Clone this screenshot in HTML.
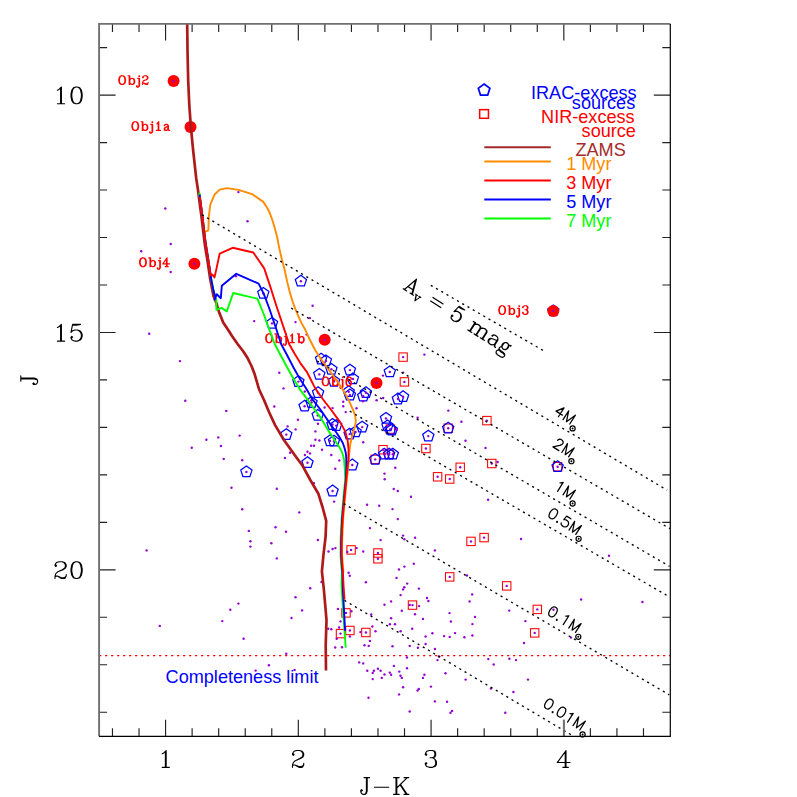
<!DOCTYPE html>
<html><head><meta charset="utf-8"><title>J vs J-K</title><style>html,body{margin:0;padding:0;background:#fff}svg{display:block}</style></head><body>
<svg width="797" height="797" viewBox="0 0 797 797">
<rect width="797" height="797" fill="#fff"/>
<defs><clipPath id="cp"><rect x="99.1" y="23.9" width="571.2" height="712.4"/></clipPath></defs>
<g fill="none" stroke="#ff0000" stroke-width="1.05">
<rect x="398.9" y="352.9" width="8.4" height="8.4"/>
<rect x="400.2" y="377.7" width="8.4" height="8.4"/>
<rect x="386.1" y="424.9" width="8.4" height="8.4"/>
<rect x="378.8" y="445.5" width="8.4" height="8.4"/>
<rect x="371.0" y="455.2" width="8.4" height="8.4"/>
<rect x="384.9" y="450.0" width="8.4" height="8.4"/>
<rect x="444.0" y="424.0" width="8.4" height="8.4"/>
<rect x="482.7" y="416.4" width="8.4" height="8.4"/>
<rect x="421.7" y="444.3" width="8.4" height="8.4"/>
<rect x="487.6" y="459.3" width="8.4" height="8.4"/>
<rect x="456.0" y="463.1" width="8.4" height="8.4"/>
<rect x="433.4" y="472.6" width="8.4" height="8.4"/>
<rect x="445.5" y="474.8" width="8.4" height="8.4"/>
<rect x="553.4" y="462.5" width="8.4" height="8.4"/>
<rect x="346.9" y="545.7" width="8.4" height="8.4"/>
<rect x="373.7" y="548.8" width="8.4" height="8.4"/>
<rect x="373.7" y="554.6" width="8.4" height="8.4"/>
<rect x="466.8" y="537.2" width="8.4" height="8.4"/>
<rect x="479.9" y="533.4" width="8.4" height="8.4"/>
<rect x="445.5" y="572.7" width="8.4" height="8.4"/>
<rect x="502.5" y="581.7" width="8.4" height="8.4"/>
<rect x="533.1" y="605.2" width="8.4" height="8.4"/>
<rect x="530.5" y="628.7" width="8.4" height="8.4"/>
<rect x="341.8" y="608.7" width="8.4" height="8.4"/>
<rect x="345.7" y="626.3" width="8.4" height="8.4"/>
<rect x="336.3" y="629.4" width="8.4" height="8.4"/>
<rect x="361.7" y="628.3" width="8.4" height="8.4"/>
<rect x="408.3" y="600.9" width="8.4" height="8.4"/>
</g>
<g fill="none" stroke="#0000ff" stroke-width="1.25" stroke-linejoin="miter">
<polygon points="300.90,275.30 306.51,279.38 304.37,285.97 297.43,285.97 295.29,279.38"/>
<polygon points="263.30,287.50 268.91,291.58 266.77,298.17 259.83,298.17 257.69,291.58"/>
<polygon points="272.00,317.50 277.61,321.58 275.47,328.17 268.53,328.17 266.39,321.58"/>
<polygon points="321.10,353.20 326.71,357.28 324.57,363.87 317.63,363.87 315.49,357.28"/>
<polygon points="325.90,355.00 331.51,359.08 329.37,365.67 322.43,365.67 320.29,359.08"/>
<polygon points="331.40,363.40 337.01,367.48 334.87,374.07 327.93,374.07 325.79,367.48"/>
<polygon points="319.30,368.50 324.91,372.58 322.77,379.17 315.83,379.17 313.69,372.58"/>
<polygon points="349.90,364.20 355.51,368.28 353.37,374.87 346.43,374.87 344.29,368.28"/>
<polygon points="352.90,373.00 358.51,377.08 356.37,383.67 349.43,383.67 347.29,377.08"/>
<polygon points="334.10,375.50 339.71,379.58 337.57,386.17 330.63,386.17 328.49,379.58"/>
<polygon points="348.70,385.80 354.31,389.88 352.17,396.47 345.23,396.47 343.09,389.88"/>
<polygon points="349.90,389.10 355.51,393.18 353.37,399.77 346.43,399.77 344.29,393.18"/>
<polygon points="365.90,386.80 371.51,390.88 369.37,397.47 362.43,397.47 360.29,390.88"/>
<polygon points="363.20,390.30 368.81,394.38 366.67,400.97 359.73,400.97 357.59,394.38"/>
<polygon points="318.10,386.80 323.71,390.88 321.57,397.47 314.63,397.47 312.49,390.88"/>
<polygon points="298.40,375.70 304.01,379.78 301.87,386.37 294.93,386.37 292.79,379.78"/>
<polygon points="304.60,400.30 310.21,404.38 308.07,410.97 301.13,410.97 298.99,404.38"/>
<polygon points="311.50,396.60 317.11,400.68 314.97,407.27 308.03,407.27 305.89,400.68"/>
<polygon points="317.70,409.50 323.31,413.58 321.17,420.17 314.23,420.17 312.09,413.58"/>
<polygon points="389.80,366.00 395.41,370.08 393.27,376.67 386.33,376.67 384.19,370.08"/>
<polygon points="403.10,390.80 408.71,394.88 406.57,401.47 399.63,401.47 397.49,394.88"/>
<polygon points="397.90,393.10 403.51,397.18 401.37,403.77 394.43,403.77 392.29,397.18"/>
<polygon points="386.00,412.50 391.61,416.58 389.47,423.17 382.53,423.17 380.39,416.58"/>
<polygon points="286.30,428.70 291.91,432.78 289.77,439.37 282.83,439.37 280.69,432.78"/>
<polygon points="307.50,456.80 313.11,460.88 310.97,467.47 304.03,467.47 301.89,460.88"/>
<polygon points="330.00,435.00 335.61,439.08 333.47,445.67 326.53,445.67 324.39,439.08"/>
<polygon points="334.00,435.30 339.61,439.38 337.47,445.97 330.53,445.97 328.39,439.38"/>
<polygon points="336.20,419.70 341.81,423.78 339.67,430.37 332.73,430.37 330.59,423.78"/>
<polygon points="332.50,418.60 338.11,422.68 335.97,429.27 329.03,429.27 326.89,422.68"/>
<polygon points="362.20,421.20 367.81,425.28 365.67,431.87 358.73,431.87 356.59,425.28"/>
<polygon points="349.60,428.20 355.21,432.28 353.07,438.87 346.13,438.87 343.99,432.28"/>
<polygon points="355.60,426.00 361.21,430.08 359.07,436.67 352.13,436.67 349.99,430.08"/>
<polygon points="387.50,420.00 393.11,424.08 390.97,430.67 384.03,430.67 381.89,424.08"/>
<polygon points="390.30,423.40 395.91,427.48 393.77,434.07 386.83,434.07 384.69,427.48"/>
<polygon points="391.80,424.10 397.41,428.18 395.27,434.77 388.33,434.77 386.19,428.18"/>
<polygon points="352.30,459.10 357.91,463.18 355.77,469.77 348.83,469.77 346.69,463.18"/>
<polygon points="375.20,453.50 380.81,457.58 378.67,464.17 371.73,464.17 369.59,457.58"/>
<polygon points="384.20,448.30 389.81,452.38 387.67,458.97 380.73,458.97 378.59,452.38"/>
<polygon points="389.10,448.30 394.71,452.38 392.57,458.97 385.63,458.97 383.49,452.38"/>
<polygon points="392.80,448.30 398.41,452.38 396.27,458.97 389.33,458.97 387.19,452.38"/>
<polygon points="448.20,422.30 453.81,426.38 451.67,432.97 444.73,432.97 442.59,426.38"/>
<polygon points="428.30,430.20 433.91,434.28 431.77,440.87 424.83,440.87 422.69,434.28"/>
<polygon points="246.40,466.00 252.01,470.08 249.87,476.67 242.93,476.67 240.79,470.08"/>
<polygon points="332.60,485.10 338.21,489.18 336.07,495.77 329.13,495.77 326.99,489.18"/>
<polygon points="557.60,460.80 563.21,464.88 561.07,471.47 554.13,471.47 551.99,464.88"/>
<polygon points="553.30,305.00 558.91,309.08 556.77,315.67 549.83,315.67 547.69,309.08"/>
</g>
<g fill="#ff0000">
<circle cx="173.6" cy="81.0" r="6"/>
<circle cx="190.5" cy="126.9" r="6"/>
<circle cx="194.4" cy="263.7" r="6"/>
<circle cx="324.7" cy="339.8" r="6"/>
<circle cx="376.5" cy="382.9" r="6"/>
<circle cx="553.3" cy="310.9" r="6"/>
</g>
<g fill="#9400d3">
<circle cx="300.9" cy="281.2" r="1.2"/>
<circle cx="263.3" cy="293.4" r="1.2"/>
<circle cx="272.0" cy="323.4" r="1.2"/>
<circle cx="321.1" cy="359.1" r="1.2"/>
<circle cx="325.9" cy="360.9" r="1.2"/>
<circle cx="331.4" cy="369.3" r="1.2"/>
<circle cx="319.3" cy="374.4" r="1.2"/>
<circle cx="349.9" cy="370.1" r="1.2"/>
<circle cx="352.9" cy="378.9" r="1.2"/>
<circle cx="334.1" cy="381.4" r="1.2"/>
<circle cx="348.7" cy="391.7" r="1.2"/>
<circle cx="349.9" cy="395.0" r="1.2"/>
<circle cx="365.9" cy="392.7" r="1.2"/>
<circle cx="363.2" cy="396.2" r="1.2"/>
<circle cx="318.1" cy="392.7" r="1.2"/>
<circle cx="298.4" cy="381.6" r="1.2"/>
<circle cx="304.6" cy="406.2" r="1.2"/>
<circle cx="311.5" cy="402.5" r="1.2"/>
<circle cx="317.7" cy="415.4" r="1.2"/>
<circle cx="389.8" cy="371.9" r="1.2"/>
<circle cx="403.1" cy="396.7" r="1.2"/>
<circle cx="397.9" cy="399.0" r="1.2"/>
<circle cx="386.0" cy="418.4" r="1.2"/>
<circle cx="286.3" cy="434.6" r="1.2"/>
<circle cx="307.5" cy="462.7" r="1.2"/>
<circle cx="330.0" cy="440.9" r="1.2"/>
<circle cx="334.0" cy="441.2" r="1.2"/>
<circle cx="336.2" cy="425.6" r="1.2"/>
<circle cx="332.5" cy="424.5" r="1.2"/>
<circle cx="362.2" cy="427.1" r="1.2"/>
<circle cx="349.6" cy="434.1" r="1.2"/>
<circle cx="355.6" cy="431.9" r="1.2"/>
<circle cx="387.5" cy="425.9" r="1.2"/>
<circle cx="390.3" cy="429.3" r="1.2"/>
<circle cx="352.3" cy="465.0" r="1.2"/>
<circle cx="375.2" cy="459.4" r="1.2"/>
<circle cx="384.2" cy="454.2" r="1.2"/>
<circle cx="389.1" cy="454.2" r="1.2"/>
<circle cx="392.8" cy="454.2" r="1.2"/>
<circle cx="448.2" cy="428.2" r="1.2"/>
<circle cx="428.3" cy="436.1" r="1.2"/>
<circle cx="246.4" cy="471.9" r="1.2"/>
<circle cx="332.6" cy="491.0" r="1.2"/>
<circle cx="557.6" cy="466.7" r="1.2"/>
<circle cx="553.3" cy="310.9" r="1.2"/>
<circle cx="403.1" cy="357.1" r="1.2"/>
<circle cx="404.4" cy="381.9" r="1.2"/>
<circle cx="383.0" cy="449.7" r="1.2"/>
<circle cx="486.9" cy="420.6" r="1.2"/>
<circle cx="425.9" cy="448.5" r="1.2"/>
<circle cx="491.8" cy="463.5" r="1.2"/>
<circle cx="460.2" cy="467.3" r="1.2"/>
<circle cx="437.6" cy="476.8" r="1.2"/>
<circle cx="449.7" cy="479.0" r="1.2"/>
<circle cx="351.1" cy="549.9" r="1.2"/>
<circle cx="377.9" cy="553.0" r="1.2"/>
<circle cx="377.9" cy="558.8" r="1.2"/>
<circle cx="471.0" cy="541.4" r="1.2"/>
<circle cx="484.1" cy="537.6" r="1.2"/>
<circle cx="449.7" cy="576.9" r="1.2"/>
<circle cx="506.7" cy="585.9" r="1.2"/>
<circle cx="537.3" cy="609.4" r="1.2"/>
<circle cx="534.7" cy="632.9" r="1.2"/>
<circle cx="346.0" cy="612.9" r="1.2"/>
<circle cx="349.9" cy="630.5" r="1.2"/>
<circle cx="340.5" cy="633.6" r="1.2"/>
<circle cx="365.9" cy="632.5" r="1.2"/>
<circle cx="412.5" cy="605.1" r="1.2"/>
<circle cx="173.6" cy="81.0" r="1.2"/>
<circle cx="190.5" cy="126.9" r="1.2"/>
<circle cx="194.4" cy="263.7" r="1.2"/>
<circle cx="324.7" cy="339.8" r="1.2"/>
<circle cx="376.5" cy="382.9" r="1.2"/>
<circle cx="165.3" cy="208.5" r="1.2"/>
<circle cx="141.2" cy="251.3" r="1.2"/>
<circle cx="170.7" cy="244.0" r="1.2"/>
<circle cx="170.7" cy="272.0" r="1.2"/>
<circle cx="149.2" cy="333.8" r="1.2"/>
<circle cx="238.4" cy="192.1" r="1.2"/>
<circle cx="247.5" cy="221.3" r="1.2"/>
<circle cx="235.9" cy="276.2" r="1.2"/>
<circle cx="254.2" cy="321.1" r="1.2"/>
<circle cx="312.6" cy="305.8" r="1.2"/>
<circle cx="309.9" cy="318.1" r="1.2"/>
<circle cx="295.5" cy="322.1" r="1.2"/>
<circle cx="301.6" cy="342.6" r="1.2"/>
<circle cx="306.6" cy="334.6" r="1.2"/>
<circle cx="179.9" cy="361.1" r="1.2"/>
<circle cx="185.3" cy="400.8" r="1.2"/>
<circle cx="226.3" cy="410.9" r="1.2"/>
<circle cx="239.6" cy="435.6" r="1.2"/>
<circle cx="218.3" cy="437.4" r="1.2"/>
<circle cx="206.4" cy="439.8" r="1.2"/>
<circle cx="191.8" cy="447.8" r="1.2"/>
<circle cx="220.9" cy="446.0" r="1.2"/>
<circle cx="223.7" cy="458.9" r="1.2"/>
<circle cx="242.2" cy="460.3" r="1.2"/>
<circle cx="231.5" cy="487.8" r="1.2"/>
<circle cx="242.2" cy="509.2" r="1.2"/>
<circle cx="248.8" cy="530.9" r="1.2"/>
<circle cx="250.4" cy="541.3" r="1.2"/>
<circle cx="250.4" cy="546.6" r="1.2"/>
<circle cx="146.6" cy="550.4" r="1.2"/>
<circle cx="238.4" cy="603.6" r="1.2"/>
<circle cx="230.3" cy="609.8" r="1.2"/>
<circle cx="222.3" cy="621.1" r="1.2"/>
<circle cx="159.8" cy="625.9" r="1.2"/>
<circle cx="243.6" cy="638.7" r="1.2"/>
<circle cx="286.3" cy="653.8" r="1.2"/>
<circle cx="268.9" cy="665.3" r="1.2"/>
<circle cx="255.6" cy="670.6" r="1.2"/>
<circle cx="294.6" cy="669.9" r="1.2"/>
<circle cx="335.2" cy="647.5" r="1.2"/>
<circle cx="342.0" cy="647.2" r="1.2"/>
<circle cx="304.8" cy="391.5" r="1.2"/>
<circle cx="311.3" cy="400.2" r="1.2"/>
<circle cx="324.6" cy="407.5" r="1.2"/>
<circle cx="332.6" cy="408.1" r="1.2"/>
<circle cx="343.2" cy="401.7" r="1.2"/>
<circle cx="343.2" cy="406.2" r="1.2"/>
<circle cx="345.7" cy="412.1" r="1.2"/>
<circle cx="356.5" cy="408.3" r="1.2"/>
<circle cx="363.0" cy="401.2" r="1.2"/>
<circle cx="376.6" cy="400.2" r="1.2"/>
<circle cx="323.6" cy="362.6" r="1.2"/>
<circle cx="279.3" cy="372.8" r="1.2"/>
<circle cx="283.5" cy="388.4" r="1.2"/>
<circle cx="424.4" cy="354.6" r="1.2"/>
<circle cx="403.1" cy="372.6" r="1.2"/>
<circle cx="383.0" cy="375.6" r="1.2"/>
<circle cx="383.2" cy="398.0" r="1.2"/>
<circle cx="448.3" cy="410.6" r="1.2"/>
<circle cx="417.6" cy="417.8" r="1.2"/>
<circle cx="461.4" cy="421.8" r="1.2"/>
<circle cx="465.5" cy="440.7" r="1.2"/>
<circle cx="485.5" cy="447.9" r="1.2"/>
<circle cx="497.6" cy="462.0" r="1.2"/>
<circle cx="411.0" cy="496.7" r="1.2"/>
<circle cx="488.1" cy="499.7" r="1.2"/>
<circle cx="274.3" cy="406.5" r="1.2"/>
<circle cx="297.9" cy="419.8" r="1.2"/>
<circle cx="287.6" cy="426.4" r="1.2"/>
<circle cx="295.6" cy="429.4" r="1.2"/>
<circle cx="318.0" cy="423.8" r="1.2"/>
<circle cx="315.4" cy="431.4" r="1.2"/>
<circle cx="315.4" cy="439.8" r="1.2"/>
<circle cx="319.4" cy="440.5" r="1.2"/>
<circle cx="311.2" cy="445.7" r="1.2"/>
<circle cx="314.0" cy="445.7" r="1.2"/>
<circle cx="322.0" cy="449.7" r="1.2"/>
<circle cx="307.5" cy="451.7" r="1.2"/>
<circle cx="310.0" cy="453.4" r="1.2"/>
<circle cx="304.9" cy="455.0" r="1.2"/>
<circle cx="290.1" cy="452.7" r="1.2"/>
<circle cx="284.9" cy="457.9" r="1.2"/>
<circle cx="331.3" cy="455.0" r="1.2"/>
<circle cx="339.3" cy="460.4" r="1.2"/>
<circle cx="335.3" cy="468.8" r="1.2"/>
<circle cx="363.2" cy="442.2" r="1.2"/>
<circle cx="395.3" cy="467.8" r="1.2"/>
<circle cx="384.5" cy="473.6" r="1.2"/>
<circle cx="384.7" cy="479.3" r="1.2"/>
<circle cx="396.8" cy="429.8" r="1.2"/>
<circle cx="276.8" cy="488.8" r="1.2"/>
<circle cx="299.3" cy="512.4" r="1.2"/>
<circle cx="275.5" cy="527.2" r="1.2"/>
<circle cx="286.0" cy="531.8" r="1.2"/>
<circle cx="271.4" cy="543.2" r="1.2"/>
<circle cx="276.8" cy="558.4" r="1.2"/>
<circle cx="317.9" cy="540.0" r="1.2"/>
<circle cx="328.5" cy="551.5" r="1.2"/>
<circle cx="332.6" cy="549.0" r="1.2"/>
<circle cx="335.4" cy="548.1" r="1.2"/>
<circle cx="334.1" cy="501.6" r="1.2"/>
<circle cx="314.0" cy="483.1" r="1.2"/>
<circle cx="393.7" cy="489.0" r="1.2"/>
<circle cx="397.8" cy="491.0" r="1.2"/>
<circle cx="367.1" cy="504.8" r="1.2"/>
<circle cx="379.2" cy="505.8" r="1.2"/>
<circle cx="392.5" cy="509.1" r="1.2"/>
<circle cx="397.8" cy="519.1" r="1.2"/>
<circle cx="369.9" cy="528.1" r="1.2"/>
<circle cx="380.6" cy="540.1" r="1.2"/>
<circle cx="403.1" cy="535.6" r="1.2"/>
<circle cx="404.4" cy="539.3" r="1.2"/>
<circle cx="415.1" cy="537.7" r="1.2"/>
<circle cx="347.3" cy="551.9" r="1.2"/>
<circle cx="356.7" cy="548.1" r="1.2"/>
<circle cx="363.2" cy="551.5" r="1.2"/>
<circle cx="413.8" cy="563.8" r="1.2"/>
<circle cx="404.4" cy="566.6" r="1.2"/>
<circle cx="399.0" cy="569.5" r="1.2"/>
<circle cx="396.5" cy="577.9" r="1.2"/>
<circle cx="348.6" cy="572.8" r="1.2"/>
<circle cx="349.8" cy="575.7" r="1.2"/>
<circle cx="521.0" cy="539.0" r="1.2"/>
<circle cx="434.9" cy="550.4" r="1.2"/>
<circle cx="467.0" cy="575.5" r="1.2"/>
<circle cx="472.2" cy="594.4" r="1.2"/>
<circle cx="469.6" cy="601.4" r="1.2"/>
<circle cx="427.0" cy="598.0" r="1.2"/>
<circle cx="428.4" cy="601.0" r="1.2"/>
<circle cx="449.5" cy="613.1" r="1.2"/>
<circle cx="475.0" cy="616.9" r="1.2"/>
<circle cx="509.2" cy="610.6" r="1.2"/>
<circle cx="553.5" cy="609.8" r="1.2"/>
<circle cx="525.4" cy="621.1" r="1.2"/>
<circle cx="423.0" cy="618.9" r="1.2"/>
<circle cx="450.9" cy="621.5" r="1.2"/>
<circle cx="472.4" cy="624.1" r="1.2"/>
<circle cx="432.4" cy="633.3" r="1.2"/>
<circle cx="425.6" cy="636.5" r="1.2"/>
<circle cx="444.1" cy="636.1" r="1.2"/>
<circle cx="449.7" cy="636.9" r="1.2"/>
<circle cx="455.1" cy="633.1" r="1.2"/>
<circle cx="464.4" cy="637.3" r="1.2"/>
<circle cx="472.4" cy="635.5" r="1.2"/>
<circle cx="524.0" cy="643.0" r="1.2"/>
<circle cx="425.6" cy="644.0" r="1.2"/>
<circle cx="434.9" cy="649.0" r="1.2"/>
<circle cx="571.0" cy="637.6" r="1.2"/>
<circle cx="321.5" cy="581.9" r="1.2"/>
<circle cx="365.9" cy="582.3" r="1.2"/>
<circle cx="407.2" cy="583.6" r="1.2"/>
<circle cx="404.3" cy="587.3" r="1.2"/>
<circle cx="403.1" cy="589.4" r="1.2"/>
<circle cx="418.9" cy="588.6" r="1.2"/>
<circle cx="400.6" cy="595.1" r="1.2"/>
<circle cx="391.1" cy="601.4" r="1.2"/>
<circle cx="384.5" cy="604.8" r="1.2"/>
<circle cx="409.7" cy="604.9" r="1.2"/>
<circle cx="419.1" cy="606.1" r="1.2"/>
<circle cx="401.8" cy="610.8" r="1.2"/>
<circle cx="415.0" cy="614.3" r="1.2"/>
<circle cx="337.9" cy="608.9" r="1.2"/>
<circle cx="351.4" cy="611.2" r="1.2"/>
<circle cx="371.2" cy="614.5" r="1.2"/>
<circle cx="391.1" cy="618.3" r="1.2"/>
<circle cx="340.5" cy="621.4" r="1.2"/>
<circle cx="389.9" cy="624.2" r="1.2"/>
<circle cx="395.0" cy="624.2" r="1.2"/>
<circle cx="372.4" cy="626.5" r="1.2"/>
<circle cx="412.2" cy="628.7" r="1.2"/>
<circle cx="400.6" cy="631.2" r="1.2"/>
<circle cx="375.5" cy="631.2" r="1.2"/>
<circle cx="339.1" cy="627.5" r="1.2"/>
<circle cx="331.3" cy="629.2" r="1.2"/>
<circle cx="328.2" cy="628.7" r="1.2"/>
<circle cx="360.4" cy="632.1" r="1.2"/>
<circle cx="349.9" cy="636.5" r="1.2"/>
<circle cx="336.7" cy="638.8" r="1.2"/>
<circle cx="369.9" cy="640.9" r="1.2"/>
<circle cx="364.5" cy="645.3" r="1.2"/>
<circle cx="368.7" cy="645.9" r="1.2"/>
<circle cx="392.5" cy="646.2" r="1.2"/>
<circle cx="409.7" cy="645.9" r="1.2"/>
<circle cx="417.9" cy="647.8" r="1.2"/>
<circle cx="359.2" cy="662.4" r="1.2"/>
<circle cx="363.2" cy="663.4" r="1.2"/>
<circle cx="367.3" cy="670.7" r="1.2"/>
<circle cx="373.9" cy="670.7" r="1.2"/>
<circle cx="372.7" cy="673.0" r="1.2"/>
<circle cx="377.9" cy="668.8" r="1.2"/>
<circle cx="380.6" cy="670.7" r="1.2"/>
<circle cx="384.5" cy="674.5" r="1.2"/>
<circle cx="381.8" cy="677.9" r="1.2"/>
<circle cx="372.7" cy="679.1" r="1.2"/>
<circle cx="389.8" cy="672.6" r="1.2"/>
<circle cx="391.1" cy="674.8" r="1.2"/>
<circle cx="393.9" cy="665.9" r="1.2"/>
<circle cx="399.3" cy="671.6" r="1.2"/>
<circle cx="400.5" cy="675.7" r="1.2"/>
<circle cx="401.8" cy="677.9" r="1.2"/>
<circle cx="407.0" cy="657.5" r="1.2"/>
<circle cx="407.0" cy="668.3" r="1.2"/>
<circle cx="424.4" cy="674.8" r="1.2"/>
<circle cx="423.0" cy="677.9" r="1.2"/>
<circle cx="403.1" cy="687.3" r="1.2"/>
<circle cx="418.8" cy="688.9" r="1.2"/>
<circle cx="417.6" cy="690.5" r="1.2"/>
<circle cx="399.1" cy="694.4" r="1.2"/>
<circle cx="368.5" cy="697.7" r="1.2"/>
<circle cx="409.7" cy="711.5" r="1.2"/>
<circle cx="438.9" cy="656.5" r="1.2"/>
<circle cx="437.5" cy="660.1" r="1.2"/>
<circle cx="488.3" cy="659.1" r="1.2"/>
<circle cx="493.7" cy="664.5" r="1.2"/>
<circle cx="509.4" cy="658.7" r="1.2"/>
<circle cx="516.0" cy="660.1" r="1.2"/>
<circle cx="445.5" cy="673.3" r="1.2"/>
<circle cx="465.6" cy="679.6" r="1.2"/>
<circle cx="528.0" cy="679.6" r="1.2"/>
<circle cx="431.0" cy="686.6" r="1.2"/>
<circle cx="490.9" cy="688.6" r="1.2"/>
<circle cx="513.4" cy="692.0" r="1.2"/>
<circle cx="434.9" cy="701.4" r="1.2"/>
<circle cx="447.1" cy="701.8" r="1.2"/>
<circle cx="452.1" cy="710.9" r="1.2"/>
<circle cx="450.5" cy="712.7" r="1.2"/>
<circle cx="505.3" cy="712.7" r="1.2"/>
<circle cx="609.0" cy="555.8" r="1.2"/>
<circle cx="581.1" cy="599.5" r="1.2"/>
<circle cx="642.4" cy="602.0" r="1.2"/>
<circle cx="310.2" cy="588.2" r="1.2"/>
<circle cx="295.5" cy="597.3" r="1.2"/>
<circle cx="302.1" cy="610.4" r="1.2"/>
<circle cx="291.5" cy="618.0" r="1.2"/>
</g>
<g transform="translate(117.60,84.40) scale(0.61,0.665)" fill="none" stroke="#ff0000" stroke-width="1.803" stroke-linecap="round" stroke-linejoin="round"><path d="M2 -8 3 -11 4 -12 6 -13 9 -13 11 -11 12 -8 12 -5 11 -2 9 0 6 0 4 -2 3 -5 3 -8 4 -11 6 -13M2 -8 2 -5 3 -2 4 -1 6 0M9 -13 11 -12 12 -11 13 -8 13 -5 12 -2 11 -1 9 0"/><path transform="translate(15,0)" d="M2 -13 5 -13 5 0M4 -13 4 0M5 -6 6 -8 8 -9 10 -9 12 -8 13 -6 13 -3 12 -1 10 0 8 0 6 -1 5 -3M10 -9 11 -8 12 -6 12 -3 11 -1 10 0"/><path transform="translate(30,0)" d="M3 -9 6 -9 6 2 4 4 5 2 5 -9M1 2 2 2 2 3 1 3 2 4 4 4M1 2 1 3M5 -13 6 -13 6 -12 5 -12 5 -13"/><path transform="translate(39,0)" d="M2 -1 3 -2 4 -2 7 0 10 0 11 -2 10 -1 7 -1 4 -2M2 0 2 -3 3 -5 5 -6 8 -7 10 -8 11 -10 10 -12 8 -13 5 -13 3 -12 2 -11 2 -10 3 -10 3 -11M11 -3 11 -2M8 -13 9 -12 10 -10 9 -8 8 -7"/></g>
<g transform="translate(130.70,130.40) scale(0.61,0.665)" fill="none" stroke="#ff0000" stroke-width="1.803" stroke-linecap="round" stroke-linejoin="round"><path d="M2 -8 3 -11 4 -12 6 -13 9 -13 11 -11 12 -8 12 -5 11 -2 9 0 6 0 4 -2 3 -5 3 -8 4 -11 6 -13M2 -8 2 -5 3 -2 4 -1 6 0M9 -13 11 -12 12 -11 13 -8 13 -5 12 -2 11 -1 9 0"/><path transform="translate(15,0)" d="M2 -13 5 -13 5 0M4 -13 4 0M5 -6 6 -8 8 -9 10 -9 12 -8 13 -6 13 -3 12 -1 10 0 8 0 6 -1 5 -3M10 -9 11 -8 12 -6 12 -3 11 -1 10 0"/><path transform="translate(30,0)" d="M3 -9 6 -9 6 2 4 4 5 2 5 -9M1 2 2 2 2 3 1 3 2 4 4 4M1 2 1 3M5 -13 6 -13 6 -12 5 -12 5 -13"/><path transform="translate(39,0)" d="M3 0 10 0M4 -10 7 -13 7 0M6 -12 6 0"/><path transform="translate(52,0)" d="M5 0 4 -1 4 -3 6 -5 9 -6M9 -3 8 -1 7 0 4 0 3 -1 3 -3 4 -4 6 -5M12 0 11 0 9 -1 9 -7 8 -9 5 -9 3 -8 3 -7 4 -7 4 -8 5 -9M8 -9 10 -7 10 -1 11 0"/></g>
<g transform="translate(138.40,266.60) scale(0.61,0.665)" fill="none" stroke="#ff0000" stroke-width="1.803" stroke-linecap="round" stroke-linejoin="round"><path d="M2 -8 3 -11 4 -12 6 -13 9 -13 11 -11 12 -8 12 -5 11 -2 9 0 6 0 4 -2 3 -5 3 -8 4 -11 6 -13M2 -8 2 -5 3 -2 4 -1 6 0M9 -13 11 -12 12 -11 13 -8 13 -5 12 -2 11 -1 9 0"/><path transform="translate(15,0)" d="M2 -13 5 -13 5 0M4 -13 4 0M5 -6 6 -8 8 -9 10 -9 12 -8 13 -6 13 -3 12 -1 10 0 8 0 6 -1 5 -3M10 -9 11 -8 12 -6 12 -3 11 -1 10 0"/><path transform="translate(30,0)" d="M3 -9 6 -9 6 2 4 4 5 2 5 -9M1 2 2 2 2 3 1 3 2 4 4 4M1 2 1 3M5 -13 6 -13 6 -12 5 -12 5 -13"/><path transform="translate(39,0)" d="M5 0 10 0M7 -11 7 0M8 0 8 -13 1 -4 12 -4"/></g>
<g transform="translate(264.50,342.60) scale(0.61,0.665)" fill="none" stroke="#ff0000" stroke-width="1.803" stroke-linecap="round" stroke-linejoin="round"><path d="M2 -8 3 -11 4 -12 6 -13 9 -13 11 -11 12 -8 12 -5 11 -2 9 0 6 0 4 -2 3 -5 3 -8 4 -11 6 -13M2 -8 2 -5 3 -2 4 -1 6 0M9 -13 11 -12 12 -11 13 -8 13 -5 12 -2 11 -1 9 0"/><path transform="translate(15,0)" d="M2 -13 5 -13 5 0M4 -13 4 0M5 -6 6 -8 8 -9 10 -9 12 -8 13 -6 13 -3 12 -1 10 0 8 0 6 -1 5 -3M10 -9 11 -8 12 -6 12 -3 11 -1 10 0"/><path transform="translate(30,0)" d="M3 -9 6 -9 6 2 4 4 5 2 5 -9M1 2 2 2 2 3 1 3 2 4 4 4M1 2 1 3M5 -13 6 -13 6 -12 5 -12 5 -13"/><path transform="translate(39,0)" d="M3 0 10 0M4 -10 7 -13 7 0M6 -12 6 0"/><path transform="translate(52,0)" d="M2 -13 5 -13 5 0M4 -13 4 0M5 -6 6 -8 8 -9 10 -9 12 -8 13 -6 13 -3 12 -1 10 0 8 0 6 -1 5 -3M10 -9 11 -8 12 -6 12 -3 11 -1 10 0"/></g>
<g transform="translate(321.00,385.70) scale(0.61,0.665)" fill="none" stroke="#ff0000" stroke-width="1.803" stroke-linecap="round" stroke-linejoin="round"><path d="M2 -8 3 -11 4 -12 6 -13 9 -13 11 -11 12 -8 12 -5 11 -2 9 0 6 0 4 -2 3 -5 3 -8 4 -11 6 -13M2 -8 2 -5 3 -2 4 -1 6 0M9 -13 11 -12 12 -11 13 -8 13 -5 12 -2 11 -1 9 0"/><path transform="translate(15,0)" d="M2 -13 5 -13 5 0M4 -13 4 0M5 -6 6 -8 8 -9 10 -9 12 -8 13 -6 13 -3 12 -1 10 0 8 0 6 -1 5 -3M10 -9 11 -8 12 -6 12 -3 11 -1 10 0"/><path transform="translate(30,0)" d="M3 -9 6 -9 6 2 4 4 5 2 5 -9M1 2 2 2 2 3 1 3 2 4 4 4M1 2 1 3M5 -13 6 -13 6 -12 5 -12 5 -13"/><path transform="translate(39,0)" d="M2 -6 5 -8 8 -8 10 -7 11 -5 11 -3 10 -1 8 0 5 0 3 -1 2 -3 2 -8 3 -11 4 -12 6 -13 4 -11 3 -8 3 -3 4 -1 5 0M10 -11 10 -10 11 -10 11 -11 10 -12 8 -13 6 -13M8 -8 9 -7 10 -5 10 -3 9 -1 8 0"/></g>
<g transform="translate(497.60,314.40) scale(0.61,0.665)" fill="none" stroke="#ff0000" stroke-width="1.803" stroke-linecap="round" stroke-linejoin="round"><path d="M2 -8 3 -11 4 -12 6 -13 9 -13 11 -11 12 -8 12 -5 11 -2 9 0 6 0 4 -2 3 -5 3 -8 4 -11 6 -13M2 -8 2 -5 3 -2 4 -1 6 0M9 -13 11 -12 12 -11 13 -8 13 -5 12 -2 11 -1 9 0"/><path transform="translate(15,0)" d="M2 -13 5 -13 5 0M4 -13 4 0M5 -6 6 -8 8 -9 10 -9 12 -8 13 -6 13 -3 12 -1 10 0 8 0 6 -1 5 -3M10 -9 11 -8 12 -6 12 -3 11 -1 10 0"/><path transform="translate(30,0)" d="M3 -9 6 -9 6 2 4 4 5 2 5 -9M1 2 2 2 2 3 1 3 2 4 4 4M1 2 1 3M5 -13 6 -13 6 -12 5 -12 5 -13"/><path transform="translate(39,0)" d="M3 -11 3 -10 2 -10 2 -11 3 -12 5 -13 8 -13 10 -12 11 -10 10 -8 8 -7 10 -6 11 -4 11 -3 10 -1 8 0 5 0 3 -1 2 -2 2 -3 3 -3 3 -2M6 -7 8 -7 9 -8 10 -10 9 -12 8 -13M8 -7 9 -6 10 -4 10 -3 9 -1 8 0"/></g>
<g fill="none" stroke-linejoin="round" clip-path="url(#cp)">
<polyline points="187.2,24.0 187.5,50.0 188.2,81.0 189.3,105.0 190.8,126.2 193.1,150.0 196.2,178.2 198.0,190.1 199.9,205.0 201.2,214.2 203.3,232.0 205.1,246.3 207.4,260.0 210.1,278.4 213.5,296.0 216.5,303.5 219.2,312.6 223.2,322.6 228.2,330.0 232.0,336.0 237.6,344.0 243.0,351.0 247.6,358.1 251.5,366.0 254.6,374.1 259.0,389.2 264.0,400.0 269.0,412.0 275.1,425.1 284.1,440.2 294.1,454.2 302.2,465.2 310.3,480.0 318.4,493.8 322.5,507.0 326.2,520.8 325.6,536.5 323.4,555.3 321.9,571.3 323.8,588.8 325.3,606.0 326.5,620.2 325.7,645.3 326.0,670.6" stroke="#ae1a1a" stroke-width="2.7"/>
<polyline points="199.4,193.5 201.0,205.5 202.6,217.5 204.0,229.5 204.2,231.4 205.6,231.5 207.6,230.8 208.4,229.8 208.8,216.7 210.3,204.6 214.4,194.8 219.7,189.6 226.9,188.1 238.5,189.9 252.1,194.1 263.3,201.9 266.7,207.0 269.4,212.2 272.0,219.0 274.4,226.8 277.0,236.5 279.3,248.3 281.9,259.5 284.4,268.8 287.1,281.4 290.1,293.4 292.6,301.5 295.3,308.8 298.0,315.5 301.2,322.4 305.5,330.3 309.5,339.0 315.1,350.0 321.6,360.1 329.1,370.1 336.6,380.2 343.2,390.2 348.7,400.2 353.2,410.3 355.2,416.0 355.8,421.0 355.1,426.1 353.6,431.0 352.1,436.1 350.1,445.2 349.1,454.2 348.6,462.2 347.8,471.0 346.8,480.0 345.6,492.0 344.4,505.1 343.2,518.0 342.6,530.2 342.1,543.0 342.1,555.3 342.8,565.0 343.4,572.0" stroke="#ff8c00" stroke-width="1.9"/>
<polyline points="199.3,192.6 200.8,204.6 202.5,216.6 203.9,228.6 205.4,240.6 207.2,252.6 209.1,264.6 210.8,276.6 213.1,288.6 216.3,300.5 216.4,309.9 221.5,307.9 226.8,311.4 233.2,293.0 257.4,298.7 263.1,312.5 269.0,328.6 274.7,344.0 281.0,356.0 290.5,373.5 300.0,389.7 308.0,400.2 315.1,410.3 320.2,417.1 328.0,430.1 336.1,442.2 339.2,446.8 341.6,451.2 343.2,455.8 344.1,460.2 344.9,470.3 345.2,480.0 344.0,492.0 342.8,505.1 341.7,518.0 341.0,530.2 340.6,543.0 340.6,555.3 341.2,565.0 341.9,572.0 341.5,585.0 343.0,610.0 344.6,632.0 345.7,647.8" stroke="#00ff00" stroke-width="1.9"/>
<polyline points="199.6,194.6 201.1,206.6 202.7,218.6 204.1,230.6 205.6,242.6 207.5,254.6 209.4,266.6 211.1,278.6 213.5,290.6 215.5,298.5 214.5,299.5 216.8,294.3 220.8,298.2 221.8,285.8 236.3,273.8 258.6,283.6 263.6,293.4 269.3,308.5 276.2,328.8 281.1,344.0 287.0,355.0 293.5,367.5 300.0,379.1 306.0,388.2 313.0,400.2 320.0,409.0 325.5,417.0 331.0,425.1 336.0,432.0 340.1,438.1 342.8,443.0 344.6,448.2 345.8,453.0 346.3,458.2 346.3,470.3 345.8,480.0 344.6,492.0 343.4,505.1 342.2,518.0 341.6,530.2 341.1,543.0 341.1,555.3 341.8,565.0 342.4,572.0 342.9,590.0 344.0,610.0 345.1,630.9" stroke="#0000ff" stroke-width="1.9"/>
<polyline points="199.9,197.0 201.5,209.0 203.0,221.0 204.4,233.0 205.9,245.0 207.9,257.0 209.7,269.0 210.7,275.4 212.3,274.6 214.5,277.4 216.1,270.4 219.7,253.6 232.7,247.8 253.3,252.5 259.0,260.8 264.2,268.4 270.2,286.4 276.6,306.5 284.6,330.4 289.1,344.0 294.5,353.5 300.0,362.6 307.0,372.1 310.5,379.0 314.1,386.2 318.0,392.5 323.5,400.0 332.0,411.0 340.1,422.1 345.1,431.1 347.6,440.2 348.6,450.2 348.3,460.2 347.1,470.3 346.2,480.0 345.0,492.0 343.8,505.1 342.7,518.0 342.0,530.2 341.6,543.0 341.6,555.3 342.2,565.0 342.9,572.0 343.5,585.0 344.5,599.5" stroke="#ff0000" stroke-width="1.9"/>
</g>
<g stroke="#000" stroke-width="1.35" stroke-dasharray="2.1 3.97" fill="none">
<line x1="201.9" y1="214.7" x2="667.1" y2="490.1"/>
<line x1="291.3" y1="308.2" x2="669.9" y2="528.6"/>
<line x1="317.1" y1="361.1" x2="669.5" y2="566.3"/>
<line x1="349.8" y1="411.2" x2="667.7" y2="595.9"/>
<line x1="343.6" y1="503.6" x2="669.2" y2="694.8"/>
<line x1="344.5" y1="600.4" x2="573.5" y2="736.2"/>
<line x1="430.8" y1="285.3" x2="543.0" y2="350.4"/>
</g>
<line x1="99.1" y1="655.6" x2="670.3" y2="655.6" stroke="#ff0000" stroke-width="1.3" stroke-dasharray="2.2 3.8"/>
<g transform="translate(552.91,413.25) rotate(32.5) scale(0.5)" fill="none" stroke="#000" stroke-width="2.500" stroke-linecap="round" stroke-linejoin="round"><path d="M13 0 13 -21 3 -7 18 -7"/><path transform="translate(20,0)" d="M4 0 4 -21 12 0 20 -21 20 0"/></g>
<circle cx="572.6" cy="428.4" r="2.55" fill="none" stroke="#000" stroke-width="1.2"/><circle cx="572.6" cy="428.4" r="1" fill="#000"/>
<g transform="translate(551.71,446.05) rotate(32.5) scale(0.5)" fill="none" stroke="#000" stroke-width="2.500" stroke-linecap="round" stroke-linejoin="round"><path d="M4 -16 4 -17 5 -19 6 -20 8 -21 12 -21 14 -20 15 -19 16 -17 16 -15 15 -13 13 -10 3 0 17 0"/><path transform="translate(20,0)" d="M4 0 4 -21 12 0 20 -21 20 0"/></g>
<circle cx="571.4" cy="461.2" r="2.55" fill="none" stroke="#000" stroke-width="1.2"/><circle cx="571.4" cy="461.2" r="1" fill="#000"/>
<g transform="translate(552.91,488.35) rotate(32.5) scale(0.5)" fill="none" stroke="#000" stroke-width="2.500" stroke-linecap="round" stroke-linejoin="round"><path d="M6 -17 8 -18 11 -21 11 0"/><path transform="translate(20,0)" d="M4 0 4 -21 12 0 20 -21 20 0"/></g>
<circle cx="572.6" cy="503.5" r="2.55" fill="none" stroke="#000" stroke-width="1.2"/><circle cx="572.6" cy="503.5" r="1" fill="#000"/>
<g transform="translate(546.26,515.59) rotate(32.5) scale(0.5)" fill="none" stroke="#000" stroke-width="2.500" stroke-linecap="round" stroke-linejoin="round"><path d="M3 -12 4 -17 6 -20 9 -21 11 -21 14 -20 16 -17 17 -12 17 -9 16 -4 14 -1 11 0 9 0 6 -1 4 -4 3 -9 3 -12"/><path transform="translate(20,0)" d="M4 -1 5 -2 6 -1 5 0 4 -1"/><path transform="translate(30,0)" d="M3 -4 4 -2 5 -1 8 0 11 0 14 -1 16 -3 17 -6 17 -8 16 -11 14 -13 11 -14 8 -14 5 -13 4 -12 5 -21 15 -21"/><path transform="translate(50,0)" d="M4 0 4 -21 12 0 20 -21 20 0"/></g>
<circle cx="578.6" cy="538.8" r="2.55" fill="none" stroke="#000" stroke-width="1.2"/><circle cx="578.6" cy="538.8" r="1" fill="#000"/>
<g transform="translate(545.96,613.59) rotate(32.5) scale(0.5)" fill="none" stroke="#000" stroke-width="2.500" stroke-linecap="round" stroke-linejoin="round"><path d="M3 -12 4 -17 6 -20 9 -21 11 -21 14 -20 16 -17 17 -12 17 -9 16 -4 14 -1 11 0 9 0 6 -1 4 -4 3 -9 3 -12"/><path transform="translate(20,0)" d="M4 -1 5 -2 6 -1 5 0 4 -1"/><path transform="translate(30,0)" d="M6 -17 8 -18 11 -21 11 0"/><path transform="translate(50,0)" d="M4 0 4 -21 12 0 20 -21 20 0"/></g>
<circle cx="578.3" cy="636.8" r="2.55" fill="none" stroke="#000" stroke-width="1.2"/><circle cx="578.3" cy="636.8" r="1" fill="#000"/>
<g transform="translate(541.82,705.81) rotate(32.5) scale(0.5)" fill="none" stroke="#000" stroke-width="2.500" stroke-linecap="round" stroke-linejoin="round"><path d="M3 -12 4 -17 6 -20 9 -21 11 -21 14 -20 16 -17 17 -12 17 -9 16 -4 14 -1 11 0 9 0 6 -1 4 -4 3 -9 3 -12"/><path transform="translate(20,0)" d="M4 -1 5 -2 6 -1 5 0 4 -1"/><path transform="translate(30,0)" d="M3 -12 4 -17 6 -20 9 -21 11 -21 14 -20 16 -17 17 -12 17 -9 16 -4 14 -1 11 0 9 0 6 -1 4 -4 3 -9 3 -12"/><path transform="translate(50,0)" d="M6 -17 8 -18 11 -21 11 0"/><path transform="translate(70,0)" d="M4 0 4 -21 12 0 20 -21 20 0"/></g>
<circle cx="582.6" cy="734.4" r="2.55" fill="none" stroke="#000" stroke-width="1.2"/><circle cx="582.6" cy="734.4" r="1" fill="#000"/>
<g transform="translate(402.70,288.40) rotate(32.5) scale(0.67,0.72)" fill="none" stroke="#000" stroke-width="1.714" stroke-linecap="round" stroke-linejoin="round"><path d="M1 0 7 0M3 0 10 -21 17 0M5 -6 14 -6M10 -18 16 0M13 0 19 0"/></g>
<g transform="translate(411.85,298.97) rotate(32.5) scale(0.402,0.432)" fill="none" stroke="#000" stroke-width="2.500" stroke-linecap="round" stroke-linejoin="round"><path d="M1 -14 7 -14M3 -14 9 0 15 -14M4 -14 9 -2M11 -14 17 -14"/></g>
<g transform="translate(426.04,303.27) rotate(32.5) scale(0.67,0.72)" fill="none" stroke="#000" stroke-width="1.714" stroke-linecap="round" stroke-linejoin="round"><path d="M4 -12 22 -12M4 -6 22 -6"/><path transform="translate(39,0)" d="M4 -4 5 -5 4 -6 3 -5 3 -4 4 -2 5 -1 8 0 11 0 14 -1 16 -3 17 -6 17 -8 16 -11 14 -13 11 -14 8 -14 5 -13 3 -11 5 -21 15 -21 10 -20 5 -20M11 -14 13 -13 15 -11 16 -8 16 -6 15 -3 13 -1 11 0"/><path transform="translate(72,0)" d="M2 -14 6 -14 6 0M2 0 9 0M5 -14 5 0M6 -11 8 -13 11 -14 13 -14 16 -13 17 -11 17 0M13 0 20 0M16 0 16 -11 15 -13 13 -14M24 0 31 0M27 0 27 -11 26 -13 24 -14 27 -13 28 -11 28 0M17 -11 19 -13 22 -14 24 -14"/><path transform="translate(105,0)" d="M5 -12 5 -11 4 -11 4 -12 5 -13 7 -14 11 -14 13 -13 14 -12 14 -3 12 -1 10 0 7 0 4 -1 3 -3 3 -5 4 -7 7 -8 13 -9 14 -10M18 0 17 0 15 -1 14 -3M4 -5 5 -7 7 -8M4 -5 4 -3 5 -1 7 0M14 -12 15 -10 15 -3 16 -1 17 0"/><path transform="translate(125,0)" d="M6 0 3 1 2 3 2 4 3 6 6 7 12 7 15 6 16 4 16 3 15 1 12 0 7 0 4 -1 3 -2 4 0 7 1 12 1 15 2 16 3M3 -3 4 -5 5 -6 4 -8 4 -10 5 -12 6 -13 8 -14 10 -14 12 -13 13 -11 13 -7 12 -5 10 -4 8 -4 6 -5 5 -7 5 -11 6 -13M3 -3 3 -2M5 -6 6 -5M12 -13 13 -12 14 -10 14 -8 13 -6 12 -5M13 -12 14 -13 16 -14 16 -13 14 -13"/></g>
<g stroke="#222" stroke-width="1.15" fill="none">
<path d="M112.47 23.9v8M112.47 736.3v-8M139.03 23.9v8M139.03 736.3v-8M165.57 23.9v16.5M165.57 736.3v-16.5M192.12 23.9v8M192.12 736.3v-8M218.68 23.9v8M218.68 736.3v-8M245.23 23.9v8M245.23 736.3v-8M271.78 23.9v8M271.78 736.3v-8M298.32 23.9v16.5M298.32 736.3v-16.5M324.88 23.9v8M324.88 736.3v-8M351.43 23.9v8M351.43 736.3v-8M377.98 23.9v8M377.98 736.3v-8M404.52 23.9v8M404.52 736.3v-8M431.07 23.9v16.5M431.07 736.3v-16.5M457.62 23.9v8M457.62 736.3v-8M484.17 23.9v8M484.17 736.3v-8M510.73 23.9v8M510.73 736.3v-8M537.27 23.9v8M537.27 736.3v-8M563.83 23.9v16.5M563.83 736.3v-16.5M590.38 23.9v8M590.38 736.3v-8M616.93 23.9v8M616.93 736.3v-8M643.48 23.9v8M643.48 736.3v-8M99.1 47.63h8M670.3 47.63h-8M99.1 95.10h16.5M670.3 95.10h-16.5M99.1 142.57h8M670.3 142.57h-8M99.1 190.04h8M670.3 190.04h-8M99.1 237.52h8M670.3 237.52h-8M99.1 284.98h8M670.3 284.98h-8M99.1 332.45h16.5M670.3 332.45h-16.5M99.1 379.92h8M670.3 379.92h-8M99.1 427.39h8M670.3 427.39h-8M99.1 474.86h8M670.3 474.86h-8M99.1 522.34h8M670.3 522.34h-8M99.1 569.80h16.5M670.3 569.80h-16.5M99.1 617.27h8M670.3 617.27h-8M99.1 664.75h8M670.3 664.75h-8M99.1 712.21h8M670.3 712.21h-8"/>
</g>
<path d="M99.1 736.3V23.9H670.3M563.83 736.3v-16.5" stroke="#707070" stroke-width="1.9" fill="none"/>
<path d="M670.3 23.9V736.3H99.1" stroke="#000" stroke-width="1.2" fill="none"/>
<g transform="translate(165.38,767.35) scale(0.8)" fill="none" stroke="#000" stroke-width="1.375" stroke-linecap="round" stroke-linejoin="round"><path transform="translate(-10,0)" d="M6 -17 8 -18 11 -21 11 0M6 0 15 0M10 -20 10 0"/></g>
<g transform="translate(298.12,767.35) scale(0.8)" fill="none" stroke="#000" stroke-width="1.375" stroke-linecap="round" stroke-linejoin="round"><path transform="translate(-10,0)" d="M3 -2 4 -3 6 -3 11 0 15 0 16 -1 17 -3 17 -5M3 0 3 -3 4 -6 6 -8 12 -11 15 -13 16 -15 16 -17 15 -19 14 -20 12 -21 8 -21 5 -20 4 -19 3 -17 3 -16 4 -15 5 -16 4 -17M8 -9 13 -11 16 -13 17 -15 17 -17 16 -19 15 -20 12 -21M6 -3 11 -1 14 -1 16 -2 17 -3"/></g>
<g transform="translate(430.88,767.35) scale(0.8)" fill="none" stroke="#000" stroke-width="1.375" stroke-linecap="round" stroke-linejoin="round"><path transform="translate(-10,0)" d="M4 -17 5 -16 4 -15 3 -16 3 -17 4 -19 5 -20 8 -21 12 -21 15 -20 16 -18 16 -15 15 -13 12 -12 9 -12M4 -4 5 -5 4 -6 3 -5 3 -4 4 -2 5 -1 8 0 12 0 15 -1 16 -2 17 -4 17 -7 16 -9 14 -11 12 -12 14 -13 15 -15 15 -18 14 -20 12 -21M15 -10 16 -7 16 -4 15 -2 14 -1 12 0"/></g>
<g transform="translate(563.62,767.35) scale(0.8)" fill="none" stroke="#000" stroke-width="1.375" stroke-linecap="round" stroke-linejoin="round"><path transform="translate(-10,0)" d="M9 0 16 0M12 -19 12 0M13 0 13 -21 2 -6 18 -6"/></g>
<g transform="translate(84.60,103.80) scale(0.8)" fill="none" stroke="#000" stroke-width="1.375" stroke-linecap="round" stroke-linejoin="round"><path transform="translate(-40,0)" d="M6 -17 8 -18 11 -21 11 0M6 0 15 0M10 -20 10 0"/><path transform="translate(-20,0)" d="M3 -12 4 -17 6 -20 9 -21 7 -20 6 -19 5 -17 4 -12 4 -9 5 -4 6 -2 7 -1 9 0 6 -1 4 -4 3 -9 3 -12M9 -21 11 -21 14 -20 16 -17 17 -12 17 -9 16 -4 14 -1 11 0 13 -1 14 -2 15 -4 16 -9 16 -12 15 -17 14 -19 13 -20 11 -21M9 0 11 0"/></g>
<g transform="translate(84.60,341.15) scale(0.8)" fill="none" stroke="#000" stroke-width="1.375" stroke-linecap="round" stroke-linejoin="round"><path transform="translate(-40,0)" d="M6 -17 8 -18 11 -21 11 0M6 0 15 0M10 -20 10 0"/><path transform="translate(-20,0)" d="M4 -4 5 -5 4 -6 3 -5 3 -4 4 -2 5 -1 8 0 11 0 14 -1 16 -3 17 -6 17 -8 16 -11 14 -13 11 -14 8 -14 5 -13 3 -11 5 -21 15 -21 10 -20 5 -20M11 -14 13 -13 15 -11 16 -8 16 -6 15 -3 13 -1 11 0"/></g>
<g transform="translate(84.60,578.50) scale(0.8)" fill="none" stroke="#000" stroke-width="1.375" stroke-linecap="round" stroke-linejoin="round"><path transform="translate(-40,0)" d="M3 -2 4 -3 6 -3 11 0 15 0 16 -1 17 -3 17 -5M3 0 3 -3 4 -6 6 -8 12 -11 15 -13 16 -15 16 -17 15 -19 14 -20 12 -21 8 -21 5 -20 4 -19 3 -17 3 -16 4 -15 5 -16 4 -17M8 -9 13 -11 16 -13 17 -15 17 -17 16 -19 15 -20 12 -21M6 -3 11 -1 14 -1 16 -2 17 -3"/><path transform="translate(-20,0)" d="M3 -12 4 -17 6 -20 9 -21 7 -20 6 -19 5 -17 4 -12 4 -9 5 -4 6 -2 7 -1 9 0 6 -1 4 -4 3 -9 3 -12M9 -21 11 -21 14 -20 16 -17 17 -12 17 -9 16 -4 14 -1 11 0 13 -1 14 -2 15 -4 16 -9 16 -12 15 -17 14 -19 13 -20 11 -21M9 0 11 0"/></g>
<g transform="translate(384.40,794.40) scale(0.8)" fill="none" stroke="#000" stroke-width="1.375" stroke-linecap="round" stroke-linejoin="round"><path transform="translate(-31.5,0)" d="M3 -4 4 -5 3 -6 2 -5 2 -3 3 -1 5 0 7 0 9 -1 10 -4 10 -21M6 -21 13 -21M9 -21 9 -4 8 -1 7 0"/><path transform="translate(-16.5,0)" d="M4 -9 22 -9"/><path transform="translate(9.5,0)" d="M2 -21 9 -21M2 0 9 0M5 -21 5 0M6 -21 6 0M6 -8 19 -21M10 -12 18 0M11 -12 19 0M15 -21 21 -21M15 0 21 0"/></g>
<g transform="translate(37.60,380.10) rotate(-90) scale(0.8)" fill="none" stroke="#000" stroke-width="1.375" stroke-linecap="round" stroke-linejoin="round"><path transform="translate(-7.5,0)" d="M3 -4 4 -5 3 -6 2 -5 2 -3 3 -1 5 0 7 0 9 -1 10 -4 10 -21M6 -21 13 -21M9 -21 9 -4 8 -1 7 0"/></g>
<polygon points="484.10,84.00 489.90,88.21 487.69,95.04 480.51,95.04 478.30,88.21" fill="none" stroke="#0000ff" stroke-width="1.7"/>
<rect x="479.65" y="109.65" width="8.8" height="8.65" fill="none" stroke="#ff0000" stroke-width="1.5"/>
<line x1="484.3" y1="147.3" x2="550.8" y2="147.3" stroke="#a52a2a" stroke-width="2"/>
<line x1="484.3" y1="161.6" x2="550.8" y2="161.6" stroke="#ff8c00" stroke-width="2"/>
<line x1="484.3" y1="180.4" x2="550.8" y2="180.4" stroke="#ff0000" stroke-width="2"/>
<line x1="484.3" y1="199.4" x2="550.8" y2="199.4" stroke="#0000ff" stroke-width="2"/>
<line x1="484.3" y1="218.5" x2="550.8" y2="218.5" stroke="#00ff00" stroke-width="2"/>
<g font-family="Liberation Sans, sans-serif" font-size="18.1px">
<text x="636.6" y="98.9" fill="#0000ff" text-anchor="end">IRAC-excess</text>
<text x="635.2" y="108.9" fill="#0000ff" text-anchor="end">sources</text>
<text x="634.6" y="122.7" fill="#ff0000" text-anchor="end">NIR-excess</text>
<text x="635.9" y="137.3" fill="#ff0000" text-anchor="end">source</text>
<text x="575.5" y="156.0" fill="#a52a2a" text-anchor="start">ZAMS</text>
<text x="566.2" y="169.9" fill="#ff8c00" text-anchor="start">1 Myr</text>
<text x="566.2" y="188.7" fill="#ff0000" text-anchor="start">3 Myr</text>
<text x="566.2" y="208.0" fill="#0000ff" text-anchor="start">5 Myr</text>
<text x="566.2" y="226.8" fill="#00ff00" text-anchor="start">7 Myr</text>
<text x="165.6" y="683.2" fill="#0000ff" text-anchor="start">Completeness limit</text>
</g>
</svg>
</body></html>
